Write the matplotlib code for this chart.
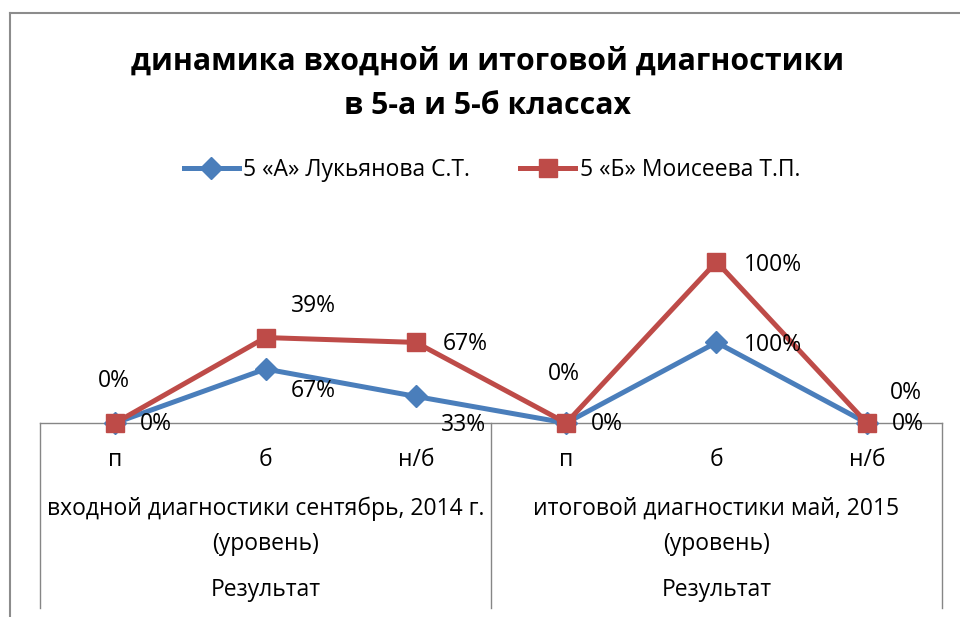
import matplotlib
matplotlib.use("Agg")
import matplotlib.pyplot as plt
from matplotlib.lines import Line2D
import matplotlib.transforms as mtransforms
import numpy as np

plt.rcParams['font.family'] = ['Open Sans', 'DejaVu Sans']

categories = ["п", "б", "н/б", "п", "б", "н/б"]
groups = ["входной диагностики сентябрь, 2014 г.\n(уровень)",
          "итоговой диагностики май, 2015\n(уровень)"]
top_level = ["Результат", "Результат"]
series_names = ["5 «А» Лукьянова С.Т.", "5 «Б» Моисеева Т.П."]
blue_vals = [0, 67, 33, 0, 100, 0]
red_vals = [0, 39, 67, 0, 100, 0]
title = "динамика входной и итоговой диагностики\nв 5-а и 5-б классах"

BLUE = "#4A7EBB"
RED = "#BE4B48"
W, H = 960, 617
fig = plt.figure(figsize=(W / 100, H / 100), dpi=100)

# plot area: baseline y=423px, x 40..942
ax_h_px = 201.5
ax = fig.add_axes([40 / W, (H - 423) / H, 902 / W, ax_h_px / H])
ax.set_xlim(-0.5, 5.5)
ax.set_ylim(0, 250)
for s in ax.spines.values():
    s.set_visible(False)
ax.set_yticks([])
ax.set_xticks([])

x = np.arange(len(categories))
blue = np.array(blue_vals, dtype=float)
red_top = blue + np.array(red_vals, dtype=float)

ax.plot(x, blue, color=BLUE, lw=3.6, marker="D", ms=11, zorder=3, clip_on=False)
ax.plot(x, red_top, color=RED, lw=3.6, marker="s", ms=13, zorder=4, clip_on=False)

lab_fs = 16.5
# label offsets in pixels (dx, dy) relative to point, dy positive = up
blue_off = [(41, -1), (48, -22), (48, -29), (41, -1), (56, -3), (41, -1)]
red_off = [(-1, 42), (48, 32), (49, -2), (-2, 49), (56, -3), (39, 30)]
for i in range(len(x)):
    dx, dy = blue_off[i]
    ax.annotate(f"{blue_vals[i]}%", (x[i], blue[i]), xytext=(dx * 0.72, dy * 0.72),
                textcoords="offset points", ha="center", va="center",
                fontsize=lab_fs, annotation_clip=False, zorder=6)
    dx, dy = red_off[i]
    ax.annotate(f"{red_vals[i]}%", (x[i], red_top[i]), xytext=(dx * 0.72, dy * 0.72),
                textcoords="offset points", ha="center", va="center",
                fontsize=lab_fs, annotation_clip=False, zorder=6)

# multi-level category axis
trans = mtransforms.blended_transform_factory(ax.transData, ax.transAxes)
gray = "#868686"
bottom_frac = -(608 - 423) / ax_h_px
ax.plot([-0.5, 5.5], [0, 0], color=gray, lw=1.0, transform=trans, clip_on=False, zorder=2)
for xv in [-0.5, 2.5, 5.5]:
    ax.plot([xv, xv], [0, bottom_frac], color=gray, lw=1.0, transform=trans, clip_on=False)

ax_fs = 16.5
for i, c in enumerate(categories):
    ax.text(x[i], -(460 - 423) / ax_h_px, c, transform=trans, ha="center", va="center",
            fontsize=ax_fs)
for gi, g in enumerate(groups):
    ax.text(1 + 3 * gi, -(526 - 423) / ax_h_px, g, transform=trans, ha="center",
            va="center", fontsize=ax_fs, linespacing=1.62)
    ax.text(1 + 3 * gi, -(590 - 423) / ax_h_px, top_level[gi], transform=trans,
            ha="center", va="center", fontsize=ax_fs)

# title
fig.text(488 / W, 1 - 84 / H, title, ha="center", va="center", fontsize=21.8,
         fontweight="bold", linespacing=1.63)

# legend
handles = [Line2D([], [], color=BLUE, lw=3.6, marker="D", ms=11),
           Line2D([], [], color=RED, lw=3.6, marker="s", ms=13)]
fig.legend(handles, series_names, loc="center", bbox_to_anchor=(492 / W, 1 - 170 / H),
           ncol=2, frameon=False, fontsize=16.5, handlelength=2.4, handletextpad=0.2,
           columnspacing=2.2)

# chart border (left and top visible)
fig.add_artist(Line2D([10 / W, 10 / W], [0, 1 - 13 / H], color="#8C8C8C", lw=1.5,
                      transform=fig.transFigure))
fig.add_artist(Line2D([10 / W, 1], [1 - 13 / H, 1 - 13 / H], color="#8C8C8C", lw=1.5,
                      transform=fig.transFigure))

fig.savefig("out.png", dpi=100, facecolor="white")
